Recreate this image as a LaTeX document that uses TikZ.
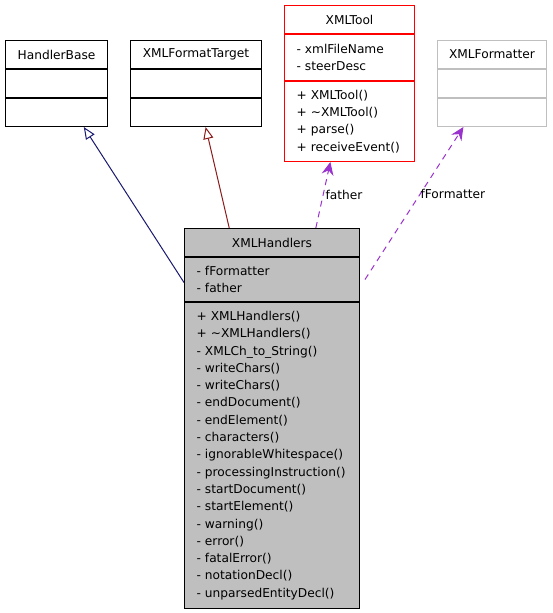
\documentclass[tikz,border=0pt]{standalone}
\usepackage{fontspec}
\setmainfont{DejaVu Sans}
\usetikzlibrary{arrows.meta,calc}
\definecolor{basenavy}{HTML}{191970}
\definecolor{basered}{HTML}{8B1A1A}
\definecolor{usepurple}{HTML}{9A32CD}
\definecolor{toolred}{HTML}{FF0000}
\definecolor{boxgray}{HTML}{BFBFBF}

\begin{document}
\begin{tikzpicture}[x=1pt,y=-1pt,
  every node/.style={font=\fontsize{12.2}{17.3}\selectfont, inner sep=0pt},
  cls/.style={draw, line width=1pt, anchor=north west, minimum height=28pt},
  lst/.style={cls, align=left, inner xsep=12pt},
  inh/.style={line width=1pt, -{Triangle[open,length=12pt,width=10pt]}},
  use/.style={line width=1pt, usepurple, dash pattern=on 6pt off 5pt,
    -{Stealth[length=13pt,width=12pt,inset=4.5pt]}},
  lbl/.style={text=black, right}]
  \useasboundingbox (0,0) rectangle (552,613);

  %base class HandlerBase
  \node[cls, minimum width=102pt] (hbT) at (5,40) {HandlerBase};
  \node[cls, minimum width=102pt] (hbA) at (hbT.south west) {};
  \node[cls, minimum width=102pt] (hbM) at (hbA.south west) {};

  %base class XMLFormatTarget
  \node[cls, minimum width=131pt] (ftT) at (130,40) {XMLFormatTarget};
  \node[cls, minimum width=131pt] (ftA) at (ftT.south west) {};
  \node[cls, minimum width=131pt] (ftM) at (ftA.south west) {};

  %used class XMLTool
  \node[cls, draw=toolred, minimum width=130pt] (toolT) at (284,5) {XMLTool};
  \node[lst, draw=toolred, text width=106pt, minimum height=46pt] (toolA) at (toolT.south west)
    {- xmlFileName\\- steerDesc};
  \node[lst, draw=toolred, text width=106pt, minimum height=80pt] (toolM) at (toolA.south west)
    {+ XMLTool()\\+ \textasciitilde XMLTool()\\+ parse()\\+ receiveEvent()};

  %used class XMLFormatter
  \node[cls, draw=boxgray, minimum width=109pt] (fmtT) at (437,40) {XMLFormatter};
  \node[cls, draw=boxgray, minimum width=109pt] (fmtA) at (fmtT.south west) {};
  \node[cls, draw=boxgray, minimum width=109pt] (fmtM) at (fmtA.south west) {};

  %the class XMLHandlers
  \node[cls, fill=boxgray, minimum width=175pt] (hdT) at (184,228) {XMLHandlers};
  \node[lst, fill=boxgray, text width=151pt, minimum height=44pt] (hdA) at (hdT.south west)
    {- fFormatter\\- father};
  \node[lst, fill=boxgray, text width=151pt, minimum height=306pt] (hdM) at (hdA.south west)
    {+ XMLHandlers()\\+ \textasciitilde XMLHandlers()\\- XMLCh\_to\_String()\\- writeChars()\\
     - writeChars()\\- endDocument()\\- endElement()\\- characters()\\- ignorableWhitespace()\\
     - processingInstruction()\\- startDocument()\\- startElement()\\- warning()\\- error()\\
     - fatalError()\\- notationDecl()\\- unparsedEntityDecl()};

  %ends of the connectors
  \coordinate (hbIn) at ($(hbM.south west)!0.765!(hbM.south east)$);
  \coordinate (ftIn) at ($(ftM.south west)!0.573!(ftM.south east)$);
  \coordinate (toolIn) at ($(toolM.south west)!0.354!(toolM.south east)$);
  \coordinate (fmtIn) at ($(fmtM.south west)!0.24!(fmtM.south east)$);
  \coordinate (hdFt) at ($(hdT.north west)!0.257!(hdT.north east)$);
  \coordinate (hdFa) at ($(hdT.north west)!0.749!(hdT.north east)$);
  \coordinate (hdFm) at ([xshift=5pt]hdA.east);

  %inheritance
  \draw[inh, basenavy] ([yshift=-3pt]hdA.west) -- (hbIn);
  \draw[inh, basered] (hdFt) -- (ftIn);

  %usage
  \draw[use] (hdFa) -- node[lbl, inner xsep=2pt] (faLbl) {father} (toolIn);
  \draw[use] (hdFm) -- node[lbl, pos=0.56] (fmLbl) {fFormatter} (fmtIn);
\end{tikzpicture}
\end{document}
